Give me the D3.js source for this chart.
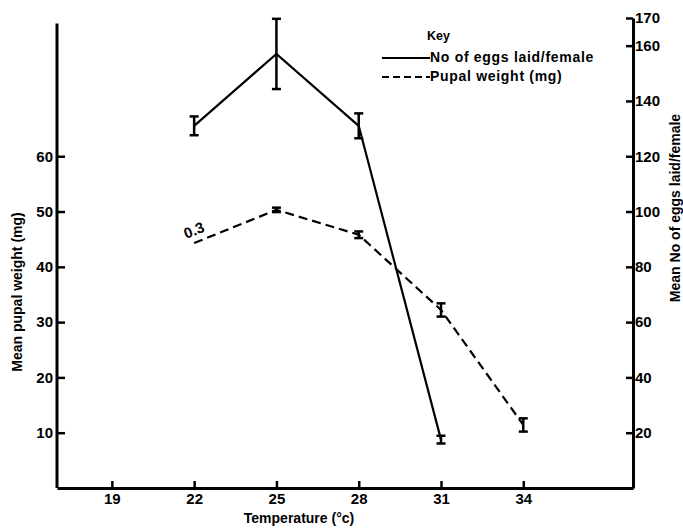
<!DOCTYPE html>
<html>
<head>
<meta charset="utf-8">
<script src="https://cdn.jsdelivr.net/npm/d3@7"></script>
<style>
  body { margin: 0; background: #fff; }
  text { font-family: "Liberation Sans", Arial, sans-serif; font-weight: bold; fill: #000; }
</style>
</head>
<body>
<svg id="chart" width="683" height="528"></svg>
<script>
// data
var eggTemps = [22, 25, 28, 31];
var eggs = [131, 157, 131, 17.5];
var eggsErr = [3.4, 12.7, 4.5, 1.4];

var pupalTemps = [22, 25, 28, 31, 34];
var pupal = [44.3, 50.3, 45.8, 32.2, 11.4];
var pupalErr = [0, 0.4, 0.6, 1.2, 1.2];

var xTicks = [19, 22, 25, 28, 31, 34];
var leftTicks = [10, 20, 30, 40, 50, 60];
var rightTicks = [20, 40, 60, 80, 100, 120, 140, 160, 170];

var svg = d3.select("#chart");
var margin = { top: 18, right: 50, bottom: 40, left: 57 };
var W = 683, H = 528;

var x = d3.scaleLinear().domain([17, 38]).range([margin.left, W - margin.right]);
var yEggs = d3.scaleLinear().domain([0, 170]).range([H - margin.bottom, margin.top]);
var yPupal = d3.scaleLinear().domain([0, 85]).range([H - margin.bottom, margin.top]);

// axes
var xAxis = svg.append("g")
  .attr("transform", "translate(0," + (H - margin.bottom) + ")")
  .call(d3.axisBottom(x).tickValues(xTicks).tickSizeInner(-7).tickSizeOuter(0).tickPadding(5));

var leftAxis = svg.append("g")
  .attr("transform", "translate(" + margin.left + ",0)")
  .call(d3.axisLeft(yPupal).tickValues(leftTicks).tickSizeInner(-8).tickSizeOuter(0).tickPadding(4));
leftAxis.select(".domain").attr("d", "M0," + yPupal(0) + "V" + yPupal(84));

var rightAxis = svg.append("g")
  .attr("transform", "translate(" + (W - margin.right) + ",0)")
  .call(d3.axisRight(yEggs).tickValues(rightTicks).tickSizeInner(-7).tickSizeOuter(0).tickPadding(3));

svg.selectAll(".domain").attr("stroke", "#000").attr("stroke-width", 3);
svg.selectAll(".tick line").attr("stroke", "#000").attr("stroke-width", 2.5);
svg.selectAll(".tick text").attr("font-size", 15).attr("font-family", "Liberation Sans, Arial, sans-serif").attr("font-weight", "bold");
rightAxis.selectAll(".tick text").attr("x", 2);

var eggData = eggTemps.map(function(t, i) {
  return { t: t, v: eggs[i], e: eggsErr[i] };
});
var pupalData = pupalTemps.map(function(t, i) {
  return { t: t, v: pupal[i], e: pupalErr[i] };
});

var eggLine = d3.line()
  .x(function(d) { return x(d.t); })
  .y(function(d) { return yEggs(d.v); });
var pupalLine = d3.line()
  .x(function(d) { return x(d.t); })
  .y(function(d) { return yPupal(d.v); });

// eggs (solid)
svg.append("path")
  .datum(eggData)
  .attr("d", eggLine)
  .attr("fill", "none")
  .attr("stroke", "#000")
  .attr("stroke-width", 2.2);

// pupal weight (dashed)
svg.append("path")
  .datum(pupalData)
  .attr("d", pupalLine)
  .attr("fill", "none")
  .attr("stroke", "#000")
  .attr("stroke-width", 2.2)
  .attr("stroke-dasharray", "9,5");

// error bars
function errorBars(data, y, cls) {
  var g = svg.append("g").attr("class", cls)
    .selectAll("g")
    .data(data.filter(function(d) { return d.e > 0; }))
    .enter()
    .append("g");
  g.append("line")
    .attr("x1", function(d) { return x(d.t); })
    .attr("x2", function(d) { return x(d.t); })
    .attr("y1", function(d) { return y(d.v - d.e); })
    .attr("y2", function(d) { return y(d.v + d.e); })
    .attr("stroke", "#000").attr("stroke-width", 2.5);
  [1, -1].forEach(function(s) {
    g.append("line")
      .attr("x1", function(d) { return x(d.t) - 4.5; })
      .attr("x2", function(d) { return x(d.t) + 4.5; })
      .attr("y1", function(d) { return y(d.v + s * d.e); })
      .attr("y2", function(d) { return y(d.v + s * d.e); })
      .attr("stroke", "#000").attr("stroke-width", 2.5);
  });
}
errorBars(eggData, yEggs, "egg-err");
errorBars(pupalData, yPupal, "pupal-err");

// "0.3" note at 22 °C
var p0 = pupalData[0], p1 = pupalData[1];
var ang = Math.atan2(yPupal(p1.v) - yPupal(p0.v), x(p1.t) - x(p0.t)) * 180 / Math.PI;
svg.append("text")
  .attr("transform", "translate(" + (x(p0.t) - 8) + "," + (yPupal(p0.v) - 4) + ") rotate(" + ang + ")")
  .attr("font-size", 15)
  .text("0.3");

// legend
var key = svg.append("g").attr("transform", "translate(382,0)");
key.append("text").attr("x", 45).attr("y", 40).attr("font-size", 12.5).text("Key");
key.append("line").attr("x1", 0).attr("x2", 48).attr("y1", 58).attr("y2", 58)
  .attr("stroke", "#000").attr("stroke-width", 1.8);
key.append("text").attr("x", 48).attr("y", 62).attr("font-size", 14)
  .attr("letter-spacing", 0.7).text("No of eggs laid/female");
key.append("line").attr("x1", 0).attr("x2", 48).attr("y1", 77).attr("y2", 77)
  .attr("stroke", "#000").attr("stroke-width", 1.8).attr("stroke-dasharray", "7,4");
key.append("text").attr("x", 48).attr("y", 81).attr("font-size", 14)
  .attr("letter-spacing", 0.7).text("Pupal weight (mg)");

// axis titles
svg.append("text")
  .attr("transform", "translate(22,292) rotate(-90)")
  .attr("text-anchor", "middle")
  .attr("font-size", 14)
  .text("Mean  pupal  weight  (mg)");

svg.append("text")
  .attr("transform", "translate(680,208) rotate(-90)")
  .attr("text-anchor", "middle")
  .attr("font-size", 14)
  .text("Mean  No of  eggs  laid/female");

svg.append("text")
  .attr("x", 299)
  .attr("y", 523)
  .attr("text-anchor", "middle")
  .attr("font-size", 14)
  .text("Temperature (°c)");
</script>
</body>
</html>
